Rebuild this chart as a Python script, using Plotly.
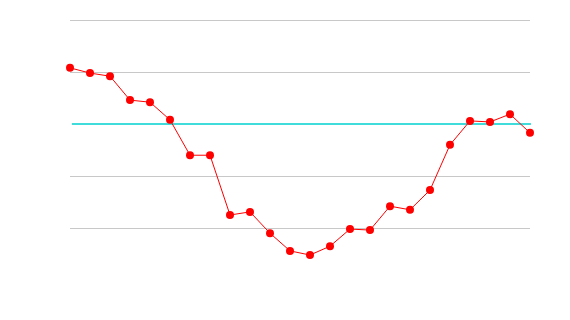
import plotly.graph_objects as go

x_idx = list(range(24))
values = [4.08, 3.98, 3.92, 3.46, 3.42, 3.08, 2.40, 2.40, 1.25, 1.31, 0.90, 0.56,
          0.48, 0.65, 0.98, 0.96, 1.42, 1.35, 1.73, 2.60, 3.06, 3.04, 3.19, 2.83]
grid_vals = [1, 2, 4, 5]
ref_value = 3

fig = go.Figure()
fig.add_trace(go.Scatter(
    x=x_idx, y=values, mode="lines+markers",
    line=dict(color="#ff0000", width=1),
    marker=dict(color="#ff0000", size=8),
    cliponaxis=False, showlegend=False,
))
fig.add_shape(type="line", xref="paper", yref="y", x0=0.004, x1=1.002, y0=ref_value, y1=ref_value,
              line=dict(color="#00d0d0", width=1.5), layer="below")
fig.update_layout(
    width=570, height=320,
    margin=dict(l=70, r=40, t=19, b=40),
    paper_bgcolor="white", plot_bgcolor="white",
    xaxis=dict(range=[0, 23], showgrid=False, zeroline=False, showticklabels=False,
               showline=False, ticks=""),
    yaxis=dict(range=[0, 5.02], tickvals=grid_vals, showgrid=True, gridcolor="#c8c8c8",
               gridwidth=1, zeroline=False, showticklabels=False, showline=False, ticks=""),
)
fig.write_html("out.html")
